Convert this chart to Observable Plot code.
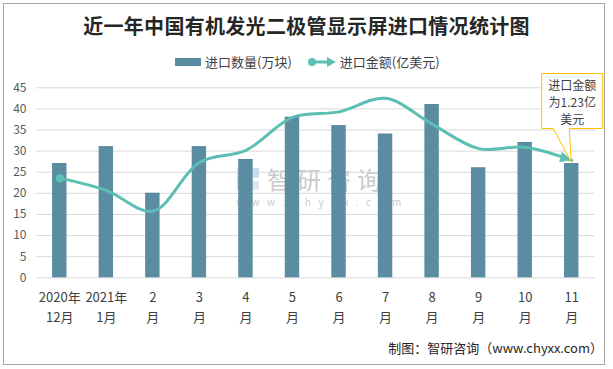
<!DOCTYPE html>
<html><head><meta charset="utf-8">
<script src="https://cdn.jsdelivr.net/npm/d3@7"></script>
<script src="https://cdn.jsdelivr.net/npm/@observablehq/plot@0.6"></script>
<style>
body{margin:0;background:#fff;}
#wrap{position:relative;width:613px;height:369px;overflow:hidden;font-family:"Noto Sans CJK SC","Noto Sans",sans-serif;color:#404040;}
#frame{position:absolute;left:3px;top:3px;width:602px;height:362px;border:1px solid #a6a6a6;box-sizing:border-box;}
#title{position:absolute;left:0;top:11px;width:613px;text-align:center;font-size:20px;font-weight:bold;color:#262626;letter-spacing:0.3px;}
#legend{position:absolute;left:175px;top:52px;font-size:13px;color:#404040;display:flex;align-items:center;white-space:nowrap;}
#legend .sw{display:inline-block;width:26px;height:8px;background:#5a8da2;margin-right:4px;}
#legend svg{margin:0 4px 0 16px;}
#plot{position:absolute;left:0;top:0;}
#footer{position:absolute;right:10px;top:338px;font-size:13px;color:#262626;}
#wm{position:absolute;left:236px;top:163px;opacity:0.55;}
#wm svg{position:absolute;left:0;top:4px;}
#wm1{position:absolute;left:31px;top:4px;font-size:24px;line-height:24px;color:#a0a0a0;letter-spacing:6px;white-space:nowrap;}
#wm2{position:absolute;left:0px;top:34px;font-size:10px;line-height:10px;color:#a0a0a0;letter-spacing:7.5px;white-space:nowrap;}
#callout{position:absolute;left:0;top:0;}
</style>
</head><body>
<div id="wrap">
<div id="frame"></div>
<div id="title">近一年中国有机发光二极管显示屏进口情况统计图</div>
<div id="legend"><span class="sw"></span><span>进口数量(万块)</span>
<svg width="28" height="12" viewBox="0 0 28 12"><line x1="4" y1="6" x2="20" y2="6" stroke="#5dbfb3" stroke-width="3"/><circle cx="4" cy="6" r="4" fill="#5dbfb3"/><path d="M19,1 L28,6 L19,11 Z" fill="#5dbfb3"/></svg>
<span>进口金额(亿美元)</span></div>
<div id="wm"><svg width="24" height="24" viewBox="0 0 24 24"><rect x="1" y="1" width="9" height="22" fill="#9fc3e0"/><rect x="13" y="1" width="10" height="10" fill="#9fc3e0"/><rect x="13" y="14" width="10" height="9" fill="#c8d8e8"/></svg><span id="wm1">智研咨询</span><span id="wm2">www.chyxx.com</span></div>
<div id="plot"></div>
<div id="footer">制图：智研咨询（www.chyxx.com）</div>
</div>
<script>
const months = ["2020年\n12月","2021年\n1月","2\n月","3\n月","4\n月","5\n月","6\n月","7\n月","8\n月","9\n月","10\n月","11\n月"];
const quantity = [27,31,20,31,28,38,36,34,41,26,32,27];
const amount = [23.6,20.7,15.8,27.3,30.2,38.0,39.3,42.5,36.4,30.6,30.9,27.8];
const yTicks = [0,5,10,15,20,25,30,35,40,45];
const calloutText = ["进口金额","为1.23亿","美元"];

const data = months.map((m,i)=>({m, q: quantity[i], a: amount[i]}));
const last = data[data.length-1];
const n = data.length;
const W = 613, H = 369;
const plot = Plot.plot({
  width: W, height: H,
  marginLeft: 36, marginRight: 18.5, marginTop: 87.3, marginBottom: 91.7,
  style: {fontFamily: '"Noto Sans CJK SC","Noto Sans",sans-serif', background: "transparent"},
  x: {domain: months, paddingInner: 0.69, paddingOuter: 0.345, round: false, label: null},
  y: {domain: [0,45], label: null},
  marks: [
    Plot.gridY(yTicks, {stroke: "#d9d9d9", strokeOpacity: 1, strokeWidth: 1}),
    Plot.axisY(yTicks, {tickSize: 0, tickPadding: 10, fontSize: 12, fill: "#595959", label: null}),
    Plot.axisX({tickSize: 0, tickPadding: 10, fontSize: 13, fill: "#404040", lineHeight: 1.55, label: null}),
    Plot.barY(data, {x: "m", y: "q", fill: "#5a8da2"}),
    Plot.barY(data, {x: "m", y1: "q", y2: d => d.q - 0.15, fill: "#4a7c92"}),
    Plot.line(data, {x: "m", y: "a", stroke: "#5dbfb3", strokeWidth: 3, curve: "catmull-rom"}),
    Plot.dot([data[0]], {x: "m", y: "a", r: 4.2, fill: "#5dbfb3"})
  ]
});
document.getElementById("plot").appendChild(plot);

// arrowhead + callout anchored on last data point through the plot's scales
const sx = plot.scale("x"), sy = plot.scale("y");
const cx = d => sx.apply(d.m) + sx.bandwidth/2;
const px = cx(last), py = sy.apply(last.a);
const prev = data[n-2];
const ang = Math.atan2(py - sy.apply(prev.a), px - cx(prev));
const ns = "http://www.w3.org/2000/svg";
const ov = document.createElementNS(ns, "svg");
ov.setAttribute("width", W); ov.setAttribute("height", H); ov.setAttribute("id","callout");
const deg = ang*180/Math.PI;
let html = `<path d="M0,0 L-11,-5.5 L-11,5.5 Z" fill="#5dbfb3" transform="translate(${px},${py}) rotate(${deg})"/>`;
const bx = px - 30, bw = 61, by = 73, bh = 55;
html += `<path d="M${bx+0.5},${by+0.5} h${bw} v${bh} H${px-2} L${px},${py+2} L${px-18},${by+bh+0.5} H${bx+0.5} Z" fill="#fff" stroke="#ffc000" stroke-width="1"/>`;
calloutText.forEach((t,i)=>{
  html += `<text x="${bx+0.5+bw/2}" y="${by+17+i*17}" text-anchor="middle" font-size="12" fill="#404040" font-family="Noto Sans CJK SC">${t}</text>`;
});
ov.innerHTML = html;
document.getElementById("wrap").appendChild(ov);
</script>
</body></html>
